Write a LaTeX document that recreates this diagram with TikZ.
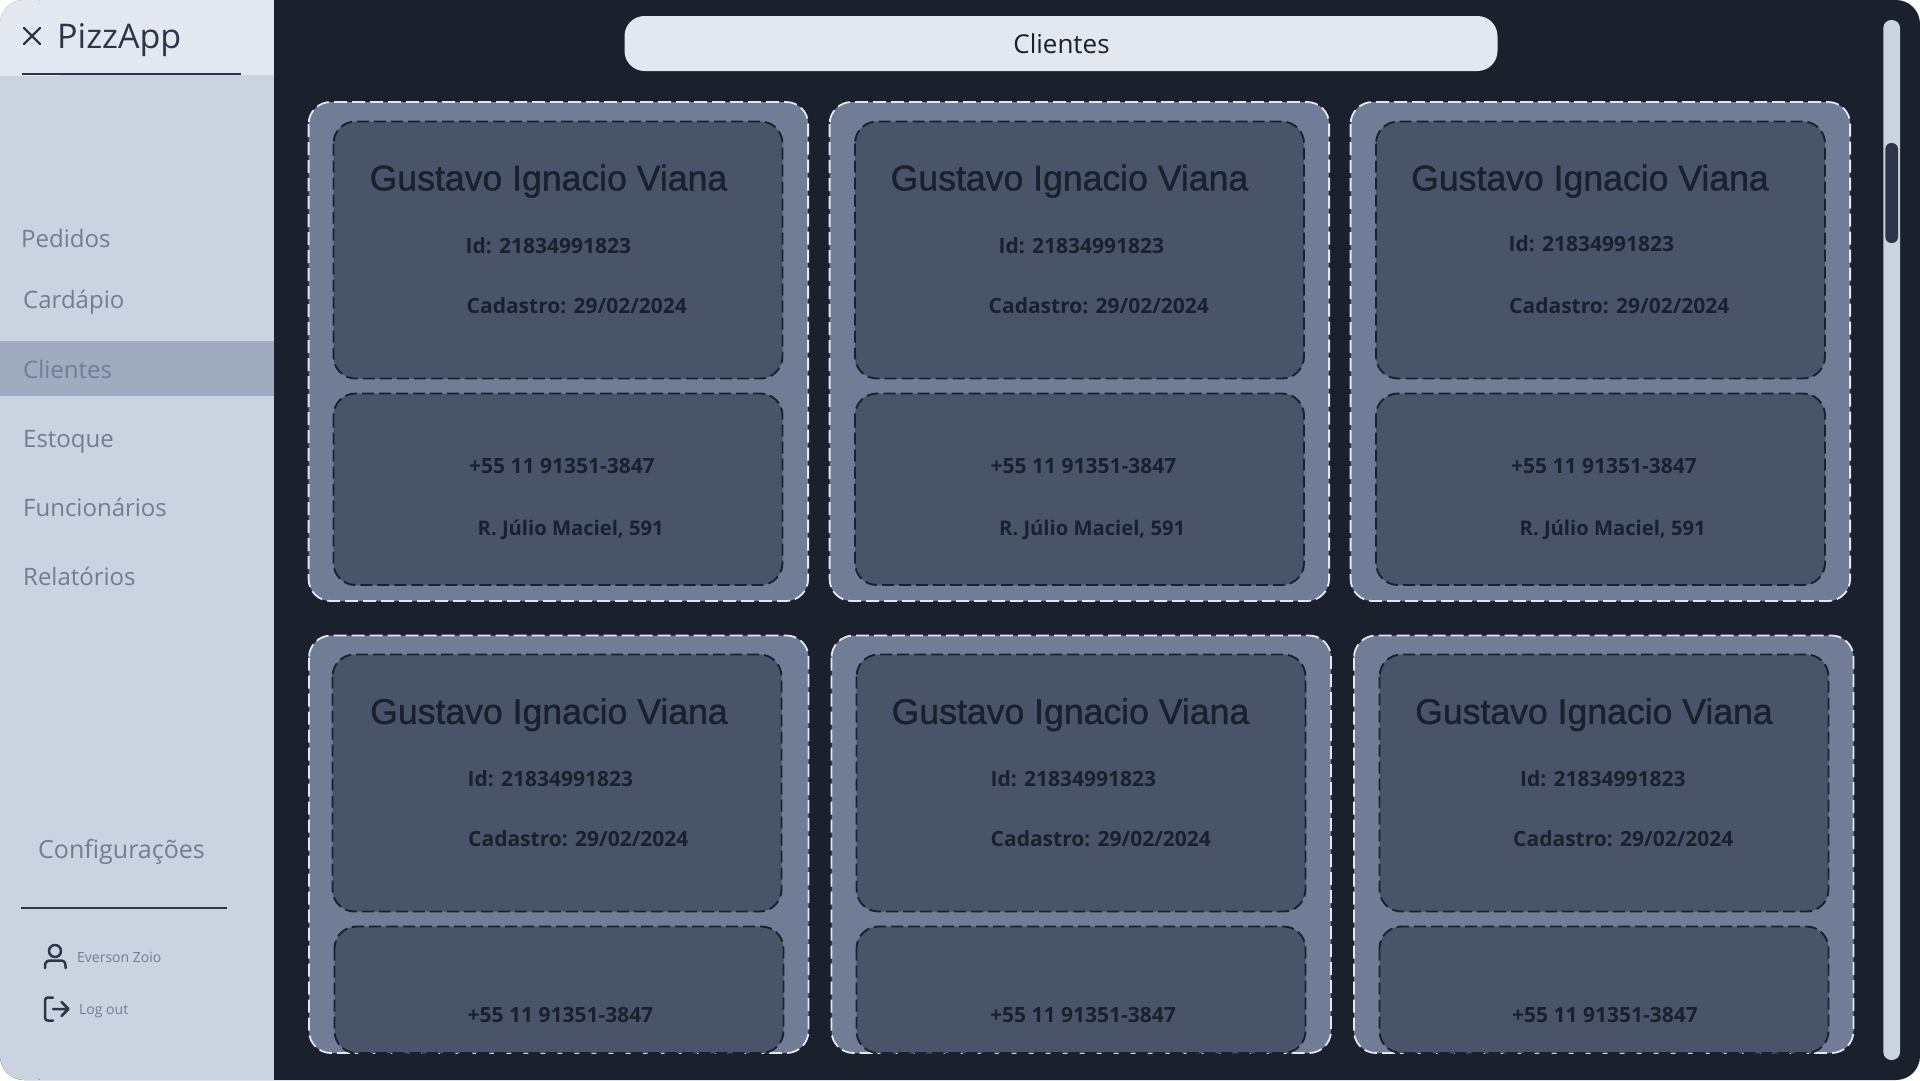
\documentclass[tikz,border=0pt]{standalone}
\usepackage{fontspec}
\setmainfont{Open Sans}
\newfontfamily\namefont[FakeBold=1.2]{Liberation Sans}
\definecolor{panel}{HTML}{1A202C}
\definecolor{ink}{HTML}{2D3648}
\definecolor{side}{HTML}{CBD2E0}
\definecolor{head}{HTML}{E2E7F0}
\definecolor{band}{HTML}{A0ABC0}
\definecolor{muted}{HTML}{717D96}
\definecolor{inner}{HTML}{4A5468}
\tikzset{
  labeltext/.style={anchor=west,inner sep=0pt,text depth=0pt},
  menuitem/.style={labeltext,text height=17.3pt,text=muted,font=\fontsize{24}{28}\selectfont},
  smallitem/.style={labeltext,text height=10pt,text=muted,font=\fontsize{14}{16}\selectfont},
  cardbox/.style={fill=muted,draw=head,line width=1.8pt,dash pattern=on 13pt off 5pt,rounded corners=22pt},
  innerbox/.style={fill=inner,draw=panel,line width=1.9pt,dash pattern=on 12pt off 5pt,rounded corners=22pt},
  nametext/.style={labeltext,text height=25.7pt,text=panel,font=\namefont\fontsize{35.6}{40}\selectfont},
  infotext/.style={labeltext,text height=15pt,text=panel,font=\bfseries\fontsize{21}{24}\selectfont},
  iconline/.style={draw=ink,line width=2.5pt,line cap=round,line join=round},
}
\begin{document}
\begin{tikzpicture}[x=1pt,y=-1pt]
\useasboundingbox (0,0) rectangle (1920,1080);
% window
\fill[panel,rounded corners=24pt] (0,0) rectangle (1920,1080);
% sidebar
\fill[side] (40,0) rectangle (274,1080);
\fill[side,rounded corners=24pt] (0,0) rectangle (60,1080);
\fill[head] (40,0) rectangle (274,75);
\begin{scope}
\clip (0,0) rectangle (60,75);
\fill[head,rounded corners=24pt] (0,0) rectangle (60,120);
\end{scope}
\fill[band] (0,341) rectangle (274,395.5);
% sidebar header
\draw[iconline,line width=2.4pt] (24,28) -- (40,44) (40,28) -- (24,44);
\node[labeltext,text height=24.5pt,text=ink,font=\fontsize{34}{38}\selectfont] (appname) at (57,36) {PizzApp};
\draw[ink,line width=2.2pt] (22,74) -- (241,74);
% menu
\node[menuitem] (pedidos) at (21,239) {Pedidos};
\node[menuitem] (cardapio) at (23,299.5) {Cardápio};
\node[menuitem] (clientes) at (23,369.5) {Clientes};
\node[menuitem] (estoque) at (23,438.5) {Estoque};
\node[menuitem] (funcionarios) at (23,507.5) {Funcionários};
\node[menuitem] (relatorios) at (23,576.5) {Relatórios};
\node[menuitem,font=\fontsize{25}{28}\selectfont] (config) at (38,850) {Configurações};
\draw[ink,line width=2.2pt] (21,908) -- (227,908);
% user
\draw[iconline] (55,951) circle (6pt);
\draw[iconline] (45,968) -- (45,966) .. controls (45,962) and (47,960.5) .. (51,960.5) -- (60,960.5) .. controls (64,960.5) and (65.5,962) .. (65.5,966) -- (65.5,968);
\node[smallitem] (user) at (77,957) {Everson Zoio};
% log out
\draw[iconline] (53,997.5) -- (48,997.5) .. controls (46,997.5) and (45,998.5) .. (45,1000.5) -- (45,1017.5) .. controls (45,1019.5) and (46,1020.5) .. (48,1020.5) -- (53,1020.5);
\draw[iconline] (53,1009) -- (68,1009) (61.5,1002) -- (68.5,1009) -- (61.5,1016);
\node[smallitem] (logout) at (79,1009) {Log out};
% title bar
\fill[head,rounded corners=20pt] (624.5,16) rectangle (1497.5,71);
\node[inner sep=0pt,text=panel,font=\fontsize{26}{30}\selectfont] (title) at (1061.5,44) {Clientes};
% scrollbar
\fill[side,rounded corners=8pt] (1883.3,20) rectangle (1900,1060);
\fill[ink,rounded corners=6pt] (1885.3,143) rectangle (1898,243);
% cards, first row
\foreach \n/\cx/\ix/\nx/\idx/\idy/\cax/\phx/\adx in {
  a/308.6/333.5/369.5/465.5/245.5/466.5/469/477.5,
  b/829.6/855/890.5/998.5/245.5/988.5/990.5/999,
  c/1350.6/1376/1411/1508.5/243.5/1509/1511/1519.5}{
  \draw[cardbox] (\cx,102) rectangle +(499.5,499);
  \draw[innerbox] (\ix,121.5) rectangle +(449,257);
  \draw[innerbox] (\ix,393.5) rectangle +(449,191.5);
  \node[nametext] (name\n) at (\nx,177.5) {Gustavo Ignacio Viana};
  \node[infotext] (id\n) at (\idx,\idy) {Id: 21834991823};
  \node[infotext] (cadastro\n) at (\cax,306) {Cadastro: 29/02/2024};
  \node[infotext] (phone\n) at (\phx,465.5) {+55 11 91351-3847};
  \node[infotext,font=\bfseries\fontsize{20.2}{24}\selectfont] (address\n) at (\adx,528) {R. Júlio Maciel, 591};
}
% cards, second row
\foreach \n/\cx/\ix/\lx/\nx/\idx/\cax/\phx in {
  d/309/332.5/334.5/370/467.5/468/467.5,
  e/831.5/856.5/856.5/891.5/990.5/990.5/990,
  f/1354/1379.5/1379.5/1415/1520/1513/1512}{
  \draw[cardbox] (\cx,635.5) rectangle +(499.5,417.5);
  \draw[innerbox] (\ix,654.5) rectangle +(449,257);
  \draw[innerbox] (\lx,926.5) rectangle +(449,126.5);
  \node[nametext] (name\n) at (\nx,711) {Gustavo Ignacio Viana};
  \node[infotext] (id\n) at (\idx,779) {Id: 21834991823};
  \node[infotext] (cadastro\n) at (\cax,839) {Cadastro: 29/02/2024};
  \node[infotext] (phone\n) at (\phx,1014.5) {+55 11 91351-3847};
}
\end{tikzpicture}
\end{document}
